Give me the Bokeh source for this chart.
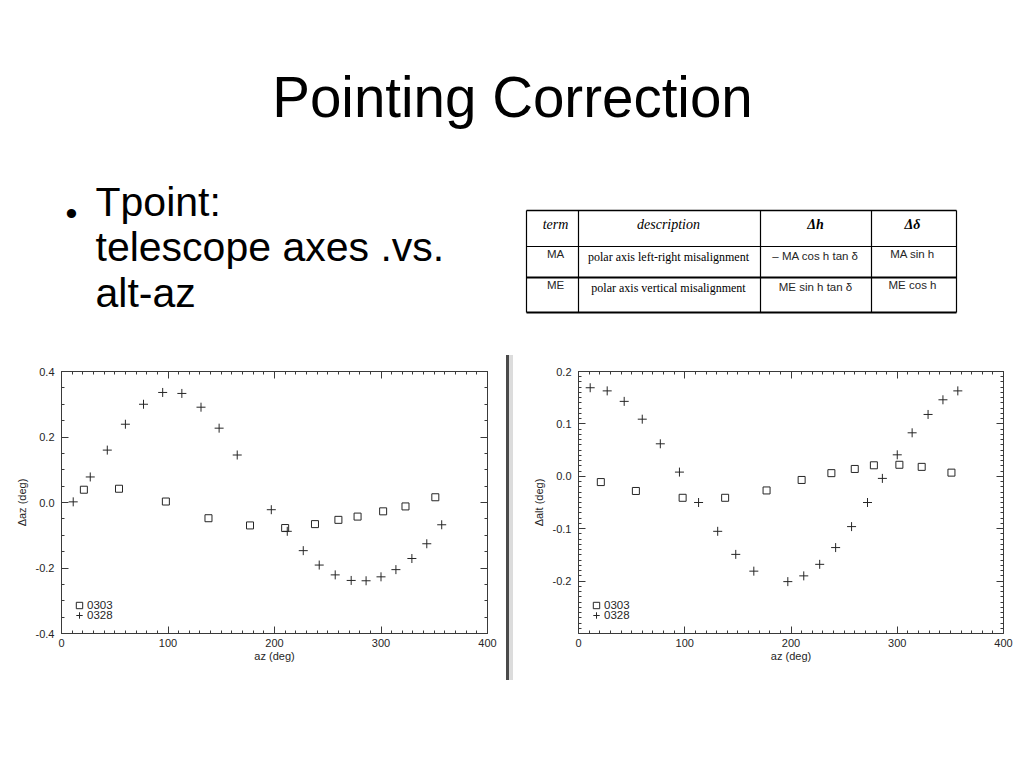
from bokeh.plotting import figure
from bokeh.models import (Range1d, LinearAxis, SingleIntervalTicker, NumeralTickFormatter,
                          CustomJSTickFormatter, Legend, LegendItem, Div)
from bokeh.layouts import column, row
from bokeh.core.properties import value
from bokeh.embed import file_html
from bokeh.resources import INLINE

# ---------------- data ----------------
title_text = "Pointing Correction"
bullet_lines = ["Tpoint:", "telescope axes .vs.", "alt-az"]

table_header = ["term", "description", "\u0394h", "\u0394\u03b4"]
table_row_ma = ["MA", "polar axis left-right misalignment", "\u2013 MA cos h tan \u03b4", "MA sin h"]
table_row_me = ["ME", "polar axis vertical misalignment", "ME sin h tan \u03b4", "ME cos h"]

series_names = ["0303", "0328"]

az_0303 = [21, 54, 98, 138, 177, 210, 238, 260, 278, 302, 323, 351]
daz_0303 = [0.039, 0.042, 0.003, -0.048, -0.070, -0.078, -0.066, -0.053, -0.043, -0.027, -0.012, 0.016]
dalt_0303 = [-0.011, -0.028, -0.041, -0.041, -0.027, -0.007, 0.006, 0.014, 0.021, 0.022, 0.018, 0.007]

az_0328 = [11, 27, 43, 60, 77, 95, 113, 131, 148, 165, 197, 212, 227, 242, 257, 272, 286, 300, 314, 329, 343, 357]
daz_0328 = [0.002, 0.078, 0.160, 0.239, 0.300, 0.336, 0.333, 0.291, 0.227, 0.145, -0.022, -0.088,
            -0.147, -0.191, -0.221, -0.238, -0.239, -0.227, -0.205, -0.171, -0.126, -0.068]
dalt_0328 = [0.169, 0.163, 0.143, 0.109, 0.062, 0.008, -0.050, -0.105, -0.149, -0.181, -0.201, -0.190,
             -0.168, -0.136, -0.096, -0.050, -0.004, 0.041, 0.083, 0.118, 0.146, 0.163]

# ---------------- style ----------------
INK = "#262626"
AX = "#3a3a3a"
SANS = "Liberation Sans"
SERIF = "Liberation Serif"

# ---------------- top (title, bullet, table) ----------------
top = figure(width=1007, height=347, x_range=Range1d(8, 1015), y_range=Range1d(355, 8),
             output_backend="svg", toolbar_location=None, min_border=0,
             x_axis_location=None, y_axis_location=None)
top.grid.visible = False
top.outline_line_color = None

top.text(x=[512], y=[97], text=[title_text], text_font=value(SANS), text_font_size="56.5px",
         text_align="center", text_baseline="alphabetic", text_color="black")

top.text(x=[71], y=[212], text=["\u2022"], text_font=value(SANS), text_font_size="34px",
         text_align="center", text_baseline="middle", text_color="black")
top.text(x=[95] * 3, y=[201 + i * 45.7 for i in range(3)], text=bullet_lines,
         text_font=value(SANS), text_font_size="41px", text_align="left",
         text_baseline="alphabetic", text_color="black")

col_edges = [526, 578, 760, 871, 956]
row_edges = [210, 246, 277, 312]
row_widths = [1.5, 1, 2, 2]
top.segment(x0=[col_edges[0]] * 4, x1=[col_edges[-1]] * 4, y0=row_edges, y1=row_edges,
            line_color="black", line_width=row_widths)
top.segment(x0=col_edges, x1=col_edges, y0=[row_edges[0]] * 5, y1=[row_edges[-1]] * 5,
            line_color="black", line_width=1.2)

col_centers = [555, 668, 815, 912]
top.text(x=col_centers[:2], y=[224, 224], text=table_header[:2], text_font=value(SERIF),
         text_font_style="italic", text_font_size="14px", text_align="center",
         text_baseline="middle", text_color="black")
top.text(x=col_centers[2:], y=[224, 224], text=table_header[2:], text_font=value(SERIF),
         text_font_style="bold italic", text_font_size="14px", text_align="center",
         text_baseline="middle", text_color="black")
for rvals, ry in ((table_row_ma, 255), (table_row_me, 286)):
    top.text(x=[col_centers[0], col_centers[2], col_centers[3]], y=[ry - 2, ry, ry - 2],
             text=[rvals[0], rvals[2], rvals[3]], text_font=value(SANS), text_font_size="11.5px",
             text_align="center", text_baseline="middle", text_color=INK)
    top.text(x=[col_centers[1]], y=[ry + 1], text=[rvals[1]], text_font=value(SERIF),
             text_font_size="12px", text_align="center", text_baseline="middle", text_color="black")


# ---------------- scatter plots ----------------
def style_axis(ax, labels=True):
    ax.axis_line_color = AX
    ax.major_tick_line_color = AX
    ax.minor_tick_line_color = AX
    ax.major_tick_in = 7
    ax.major_tick_out = 0
    ax.minor_tick_in = 3
    ax.minor_tick_out = 0
    ax.major_label_text_font = SANS
    ax.major_label_text_font_size = "11px"
    ax.major_label_text_color = INK
    ax.axis_label_text_font = SANS
    ax.axis_label_text_font_size = "11px"
    ax.axis_label_text_font_style = "normal"
    ax.axis_label_text_color = INK
    if not labels:
        ax.formatter = CustomJSTickFormatter(code="return ''")
        ax.major_label_standoff = 0


def make_legend(label, renderer, y_off):
    return Legend(items=[LegendItem(label=label, renderers=[renderer])],
                  location=(10, y_off), glyph_width=16, glyph_height=16, label_height=16,
                  spacing=0, padding=0, margin=0, label_standoff=0,
                  border_line_color=None, background_fill_alpha=0,
                  label_text_font=SANS, label_text_font_size="11.5px", label_text_color=INK)


def make_plot(width, mb_left, mb_right, y_sq, y_cr, ystart, yend, yint, yminor, ylabel):
    p = figure(width=width, height=325, x_range=Range1d(0, 400), y_range=Range1d(ystart, yend),
               output_backend="svg", toolbar_location=None,
               min_border_left=mb_left, min_border_right=mb_right,
               min_border_top=16, min_border_bottom=47)
    p.grid.visible = False
    p.outline_line_color = None
    p.background_fill_color = "white"

    xt = SingleIntervalTicker(interval=100, num_minor_ticks=10)
    yt = SingleIntervalTicker(interval=yint, num_minor_ticks=yminor)

    xa = p.xaxis[0]
    xa.ticker = xt
    style_axis(xa)
    xa.axis_label = "az (deg)"
    xa.major_label_standoff = 5
    xa.axis_label_standoff = 0

    ya = p.yaxis[0]
    ya.ticker = yt
    ya.formatter = NumeralTickFormatter(format="0.0")
    style_axis(ya)
    ya.axis_label = ylabel
    ya.major_label_standoff = 7
    ya.axis_label_standoff = 5

    ta = LinearAxis(ticker=xt)
    style_axis(ta, labels=False)
    p.add_layout(ta, "above")
    ra = LinearAxis(ticker=yt)
    style_axis(ra, labels=False)
    p.add_layout(ra, "right")

    r_sq = p.scatter(az_0303, y_sq, marker="square", size=7, fill_color=None,
                     line_color=INK, line_width=1)
    r_cr = p.scatter(az_0328, y_cr, marker="cross", size=9, line_color=INK, line_width=1)

    p.add_layout(make_legend(series_names[0], r_sq, 20))
    p.add_layout(make_legend(series_names[1], r_cr, 10))
    return p


left = make_plot(498, 53, 19, daz_0303, daz_0328, -0.4, 0.4, 0.2, 4, "\u0394az (deg)")
right = make_plot(502, 65, 12, dalt_0303, dalt_0328, -0.3, 0.2, 0.1, 10, "\u0394alt (deg)")

sep = Div(text="", width=7, height=325, margin=0,
          styles={"background": "linear-gradient(to right, #4a4a4a 0px, #4a4a4a 3px, #dcdcdc 3px, #dcdcdc 7px)"})

layout = column(top, row(left, sep, right, spacing=0), spacing=0, margin=(8, 8, 8, 8))

with open("out.html", "w") as f:
    f.write(file_html(layout, INLINE))
